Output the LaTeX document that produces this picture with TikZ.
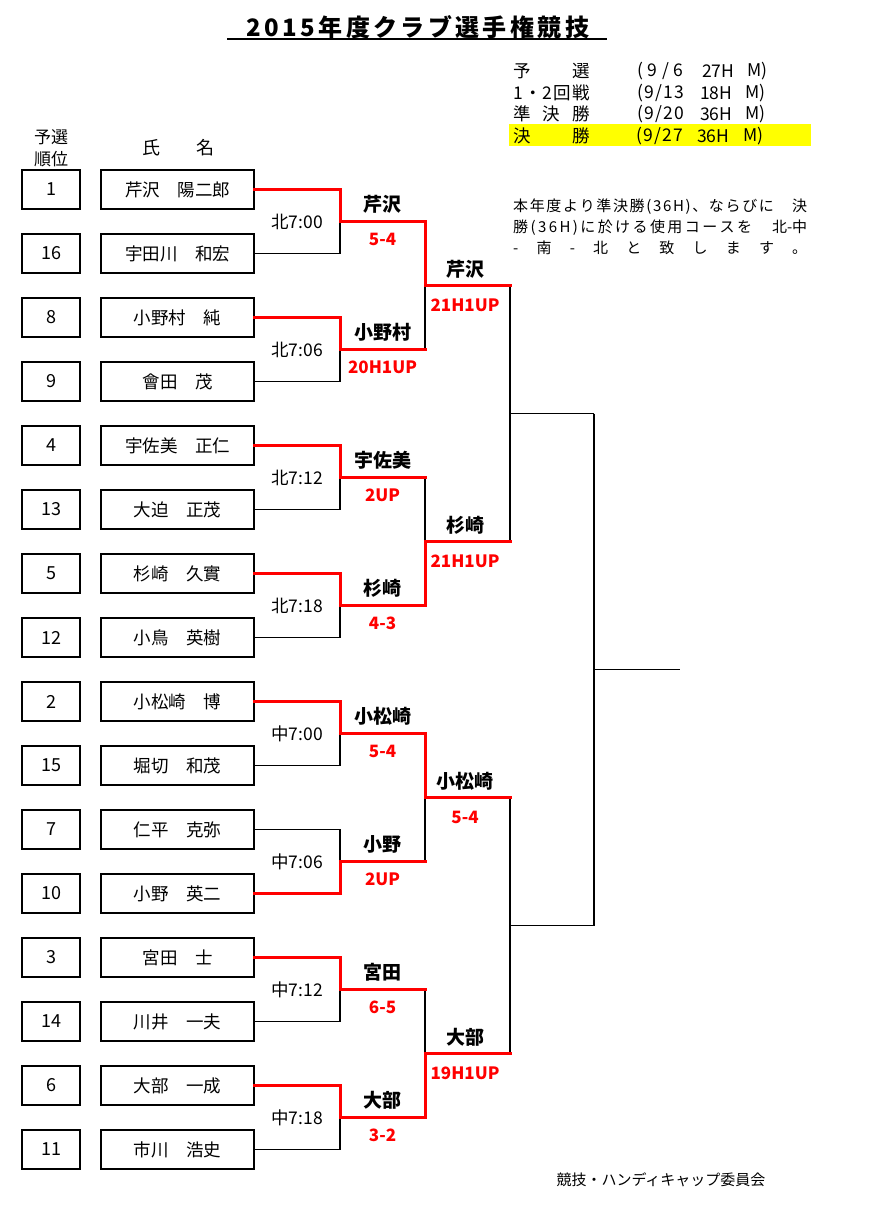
\documentclass[tikz,border=0pt]{standalone}
\usepackage{fontspec}
\setmainfont{Noto Sans CJK JP}
\definecolor{pured}{RGB}{255,0,0}
\definecolor{hlyellow}{RGB}{255,255,0}
\newcommand{\fsz}[1]{\fontsize{#1}{#1}\selectfont}
\tikzset{
  rankbox/.style={draw, line width=1.2pt, minimum width=58pt, minimum height=39pt, inner sep=0pt, font=\fsz{18}},
  namebox/.style={draw, line width=1.2pt, minimum width=153pt, minimum height=39pt, inner sep=0pt, font=\fsz{17.5}},
  bline/.style={line width=1.2pt, black},
  rline/.style={line width=3pt, pured, line cap=rect, line join=miter},
  tlabel/.style={inner sep=0pt, font=\fsz{17.5}},
  wname/.style={inner sep=0pt, font=\bfseries\fsz{19}},
  wscore/.style={inner sep=0pt, text=pured, font=\bfseries\fsz{17}},
  plain/.style={inner sep=0pt, anchor=west, font=\fsz{17.5}},
  note/.style={inner sep=0pt, anchor=west, font=\fsz{15}}
}
\newcommand{\spreadto}[2]{\makebox[#1][s]{#2}}
\begin{document}
\begin{tikzpicture}[x=1pt,y=-1pt]
\useasboundingbox (0,0) rectangle (884,1217);
\fill[white] (0,0) rectangle (884,1217);

% title
\node[inner sep=0pt, font=\bfseries\fsz{24}\addfontfeature{LetterSpace=14}] (title) at (418,27) {2015年度クラブ選手権競技};
\draw[line width=1.5pt] (227,39) -- (607,39);

% schedule
\fill[hlyellow] (509,124) rectangle (811,146);
\node[plain] (s1a) at (513,71) {\spreadto{77pt}{予\hfill 選}};
\node[plain] (s1b) at (637,71) {\spreadto{46pt}{(\hfill 9\hfill /\hfill 6}};
\node[plain] (s1c) at (702,71) {27H};
\node[plain] (s1d) at (747,71) {M)};
\node[plain] (s2a) at (513,93) {\spreadto{77pt}{1\hfill ・\hfill 2\hfill 回\hfill 戦}};
\node[plain] (s2b) at (637,93) {\spreadto{47pt}{(\hfill 9\hfill /\hfill 1\hfill 3}};
\node[plain] (s2c) at (700,93) {18H};
\node[plain] (s2d) at (745,93) {M)};
\node[plain] (s3a) at (513,114) {\spreadto{77pt}{準\hfill 決\hfill 勝}};
\node[plain] (s3b) at (637,114) {\spreadto{47pt}{(\hfill 9\hfill /\hfill 2\hfill 0}};
\node[plain] (s3c) at (700,114) {36H};
\node[plain] (s3d) at (745,114) {M)};
\node[plain] (s4a) at (513,136) {\spreadto{77pt}{決\hfill 勝}};
\node[plain] (s4b) at (636,136) {\spreadto{47pt}{(\hfill 9\hfill /\hfill 2\hfill 7}};
\node[plain] (s4c) at (697,136) {36H};
\node[plain] (s4d) at (743,136) {M)};

% note
\node[note] (nt1) at (513,207) {\spreadto{294pt}{本\hfill 年\hfill 度\hfill よ\hfill り\hfill 準\hfill 決\hfill 勝\hfill (\hfill 3\hfill 6\hfill H\hfill )\hfill 、\hfill な\hfill ら\hfill び\hfill に\hfill \hbox{　}\hfill 決}};
\node[note] (nt2) at (513,228) {\spreadto{294pt}{勝\hfill (\hfill 3\hfill 6\hfill H\hfill )\hfill に\hfill 於\hfill け\hfill る\hfill 使\hfill 用\hfill コ\hfill ー\hfill ス\hfill を\hfill \hbox{　}\hfill 北-中}};
\node[note] (nt3) at (513,248) {\spreadto{294pt}{-\hfill 南\hfill -\hfill 北\hfill と\hfill 致\hfill し\hfill ま\hfill す\hfill 。}};

% headers
\node[inner sep=0pt, font=\fsz{17}] (h1) at (51,137) {予選};
\node[inner sep=0pt, font=\fsz{17}] (h2) at (51,159) {順位};
\node[inner sep=0pt, font=\fsz{18}] (h3) at (178,148) {氏　　名};

% players
\foreach \r/\nm [count=\k from 0] in {1/芹沢　陽二郎, 16/宇田川　和宏, 8/小野村　純, 9/會田　茂, 4/宇佐美　正仁, 13/大迫　正茂, 5/杉崎　久實, 12/小鳥　英樹, 2/小松崎　博, 15/堀切　和茂, 7/仁平　克弥, 10/小野　英二, 3/宮田　士, 14/川井　一夫, 6/大部　一成, 11/市川　浩史} {
  \node[rankbox] (r\k) at (51,189.5+64*\k) {\r};
  \node[namebox] (n\k) at (177.5,189.5+64*\k) {\nm};
}

% junction coordinates
\foreach \m in {0,...,7} {
  \coordinate (m\m) at (340,221.5+128*\m);
  \coordinate (mo\m) at (425,221.5+128*\m);
}
\foreach \q in {0,...,3} { \coordinate (qo\q) at (510,285.5+256*\q); }
\foreach \s in {0,1} { \coordinate (so\s) at (594,413.5+512*\s); }
\coordinate (fo) at (680,669.5);

% black bracket lines
\foreach \k in {0,...,15} {
  \pgfmathtruncatemacro{\mm}{int(\k/2)}
  \draw[bline] (n\k.east) -| (m\mm);
}
\foreach \m in {0,...,7} {
  \pgfmathtruncatemacro{\qq}{int(\m/2)}
  \draw[bline] (m\m) -- (mo\m);
  \draw[bline] (mo\m) |- (qo\qq);
}
\foreach \q in {0,...,3} {
  \pgfmathtruncatemacro{\ss}{int(\q/2)}
  \draw[bline] (qo\q) |- (so\ss);
}
\draw[bline] (so0) |- (fo);
\draw[bline] (so1) |- (fo);

% red winner lines
\foreach \k/\m in {0/0,2/1,4/2,6/3,8/4,11/5,12/6,14/7} {
  \draw[rline] (n\k.east) -| (m\m) -- (mo\m);
}
\foreach \m/\q in {0/0,3/1,4/2,7/3} {
  \draw[rline] (mo\m) |- (qo\q);
}

% time labels
\foreach \t [count=\m from 0] in {北7:00,北7:06,北7:12,北7:18,中7:00,中7:06,中7:12,中7:18} {
  \node[tlabel] (t\m) at (297,221.5+128*\m) {\t};
}

% round 1 results
\foreach \m/\w/\sc in {0/芹沢/5-4, 1/小野村/20H1UP, 2/宇佐美/2UP, 3/杉崎/4-3, 4/小松崎/5-4, 5/小野/2UP, 6/宮田/6-5, 7/大部/3-2} {
  \node[wname] (w\m) at (382.5,221.5+128*\m-17) {\w};
  \node[wscore] (sc\m) at (382.5,221.5+128*\m+18) {\sc};
}
% round 2 results
\foreach \q/\w/\sc in {0/芹沢/21H1UP, 1/杉崎/21H1UP, 2/小松崎/5-4, 3/大部/19H1UP} {
  \node[wname] (qw\q) at (465,285.5+256*\q-16) {\w};
  \node[wscore] (qs\q) at (465,285.5+256*\q+20) {\sc};
}

% footer
\node[inner sep=0pt, font=\fsz{15}] (foot) at (661,1180) {競技・ハンディキャップ委員会};
\end{tikzpicture}
\end{document}
